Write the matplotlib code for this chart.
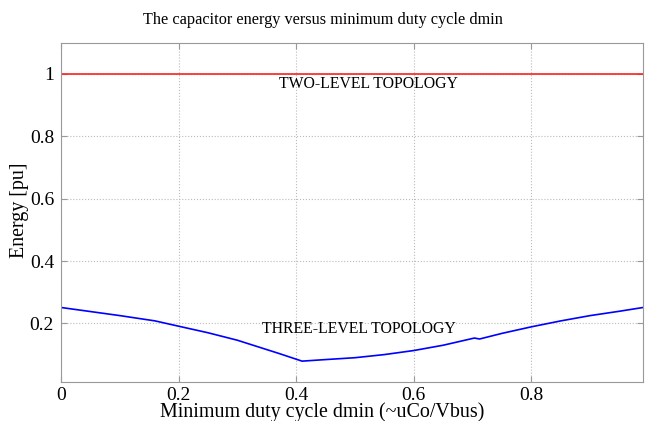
import matplotlib.pyplot as plt

# normalized capacitor energy vs minimum duty cycle
dmin = [0.0, 0.05, 0.10, 0.16, 0.20, 0.25, 0.30, 0.33, 0.37, 0.41, 0.45, 0.50,
        0.55, 0.60, 0.65, 0.703, 0.712, 0.75, 0.80, 0.85, 0.90, 0.95, 0.99]
e_three = [0.251, 0.238, 0.225, 0.208, 0.191, 0.170, 0.146, 0.128, 0.104, 0.079,
           0.084, 0.090, 0.100, 0.113, 0.130, 0.153, 0.150, 0.168, 0.189, 0.208,
           0.225, 0.239, 0.251]
e_two = [1.0 for _ in dmin]

plt.rcParams['font.family'] = ['Liberation Serif', 'DejaVu Serif']

fig = plt.figure(figsize=(6.45, 4.21), dpi=100)
ax = fig.add_axes([0.0946, 0.0933, 0.9024, 0.8053])

ax.plot(dmin, e_two, color='#ff2020', lw=1.2)
ax.plot(dmin, e_three, color='#0000ff', lw=1.2)

ax.text(0.523, 0.966, 'TWO-LEVEL TOPOLOGY', ha='center', va='center', fontsize=11.3)
ax.text(0.507, 0.181, 'THREE-LEVEL TOPOLOGY', ha='center', va='center', fontsize=11.3)

ax.set_xlim(0, 0.99)
ax.set_ylim(0.013, 1.1)
ax.set_xticks([0, 0.2, 0.4, 0.6, 0.8])
ax.set_xticklabels(['0', '0.2', '0.4', '0.6', '0.8'])
ax.set_yticks([0.2, 0.4, 0.6, 0.8, 1.0])
ax.set_yticklabels(['0.2', '0.4', '0.6', '0.8', '1'])
ax.tick_params(direction='in', top=True, right=True, labelsize=14, length=4,
               color='#999999')
ax.tick_params(axis='x', pad=4)
ax.tick_params(axis='y', pad=5)
for sp in ax.spines.values():
    sp.set_color('#999999')
ax.grid(True, linestyle=':', color='#bbbbbb', lw=0.8)

fig.text(0.5, 0.953, 'The capacitor energy versus minimum duty cycle dmin',
         ha='center', va='center', fontsize=11.7)
fig.text(0.5, 0.02, 'Minimum duty cycle dmin (~uCo/Vbus)', ha='center', va='center',
         fontsize=14.4)
fig.text(0.031, 0.5, 'Energy [pu]', rotation=90, ha='center', va='center', fontsize=14.4)

fig.savefig('out.png', dpi=100)
